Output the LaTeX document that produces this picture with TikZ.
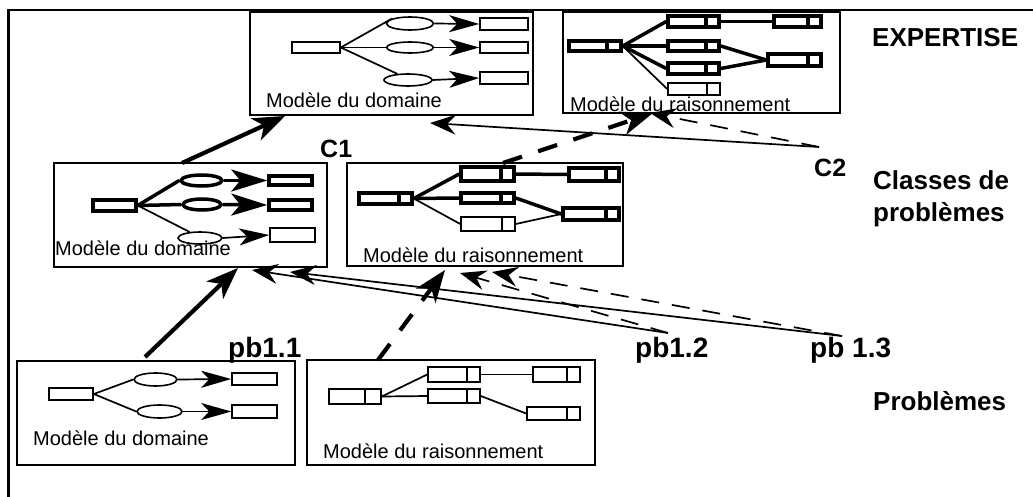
\documentclass[tikz,border=0pt]{standalone}
\usepackage{fontspec}
\setmainfont{Liberation Sans}
\usetikzlibrary{shapes.geometric,arrows.meta,fit}
\begin{document}
\begin{tikzpicture}[x=1pt,y=-1pt,
 box/.style={draw,line width=2pt,inner sep=0pt},
 cl/.style={rectangle,draw,inner sep=0pt,line width=1.6pt},
 ck/.style={rectangle,draw,inner sep=0pt,line width=3.5pt},
 el/.style={ellipse,draw,inner sep=0pt,line width=1.6pt},
 ek/.style={ellipse,draw,inner sep=0pt,line width=3.5pt},
 div/.style={path picture={\draw ([xshift=-#1]path picture bounding box.north east) -- ([xshift=-#1]path picture bounding box.south east);}},
 div/.default=13pt,
 wl/.style={line width=1.7pt},
 wk/.style={line width=3.5pt},
 wc/.style={line width=4.2pt},
 hm/.style={-{Stealth[length=30pt,width=17pt,inset=8pt]}},
 hk/.style={-{Stealth[length=36pt,width=22pt,inset=9pt]}},
 hc/.style={-{Stealth[length=32pt,width=24pt,inset=9pt]}},
 ht/.style={-{Stealth[length=26pt,width=20pt,inset=9pt]}},
 dk/.style={dash pattern=on 20pt off 17pt},
 dl/.style={dash pattern=on 18pt off 13pt},
 lbl/.style={anchor=base west,inner sep=0pt,font=\fontsize{20}{24}\selectfont},
 big/.style={anchor=base west,inner sep=0pt,font=\bfseries\fontsize{26}{32}\selectfont},
 pbl/.style={anchor=base west,inner sep=0pt,font=\bfseries\fontsize{28}{32}\selectfont},
 cbl/.style={anchor=base west,inner sep=0pt,font=\bfseries\fontsize{25}{30}\selectfont}
]
\useasboundingbox (0,0) rectangle (1033,497);
\draw[line width=2.5pt] (8.5,497) -- (8.5,10) -- (1033,10);

% ---------- top left: Modele du domaine (expertise)
\node[box,fit={(250,12)(533,115)}] (tl) {};
\node[cl,minimum width=48pt,minimum height=11pt] (tlA) at (316,47.5) {};
\node[el,minimum width=47pt,minimum height=13pt] (tlE1) at (410,23.5) {};
\node[el,minimum width=47pt,minimum height=11pt] (tlE2) at (410,47.5) {};
\node[el,minimum width=48pt,minimum height=12pt] (tlE3) at (408,80) {};
\node[cl,minimum width=48pt,minimum height=12pt] (tlR1) at (504,24) {};
\node[cl,minimum width=48pt,minimum height=11pt] (tlR2) at (504,47.5) {};
\node[cl,minimum width=48pt,minimum height=12pt] (tlR3) at (504,78) {};
\draw[wl] (tlA.east) -- (tlE1.165);
\draw[wl] (tlA.east) -- (tlE2.west);
\draw[wl] (tlA.east) -- (tlE3.150);
\draw[wl,hm] (tlE1.east) -- (tlR1.west);
\draw[wl,hm] (tlE2.east) -- (tlR2.west);
\draw[wl,hm] (tlE3.east) -- (tlR3.west);
\node[lbl] (tlT) at (266,108) {Modèle du domaine};

% ---------- top right: Modele du raisonnement (expertise)
\node[box,fit={(563,12)(840,113)}] (tr) {};
\node[ck,div=14pt,minimum width=52pt,minimum height=10pt] (trL) at (595,46) {};
\node[ck,div,minimum width=51pt,minimum height=11pt] (trA1) at (693.5,21.5) {};
\node[ck,div,minimum width=51pt,minimum height=10pt] (trA2) at (693.5,46) {};
\node[ck,div,minimum width=51pt,minimum height=11pt] (trA3) at (693.5,68.5) {};
\node[cl,div,minimum width=52pt,minimum height=12pt] (trA4) at (694,89) {};
\node[ck,div,minimum width=47pt,minimum height=11pt] (trB1) at (797.5,21.5) {};
\node[ck,div,minimum width=53pt,minimum height=12pt] (trB2) at (794.5,60) {};
\draw[wk] (trL.east) -- (trA1.west);
\draw[wk] (trL.east) -- (trA2.west);
\draw[wk] (trL.east) -- (trA3.west);
\draw[wl] (trL.east) -- (trA4.west);
\draw[wk] (trA1.east) -- (trB1.west);
\draw[wk] (trA2.east) -- (trB2.west);
\draw[wk] (trA3.east) -- (trB2.west);
\node[lbl] (trT) at (570,112) {Modèle du raisonnement};

% ---------- middle left: Modele du domaine (classes)
\node[box,fit={(54,163)(327,267)}] (ml) {};
\node[ck,minimum width=43pt,minimum height=11pt] (mlA) at (114.5,205.5) {};
\node[ek,minimum width=41pt,minimum height=11pt] (mlE1) at (201.5,180.5) {};
\node[ek,minimum width=38pt,minimum height=11pt] (mlE2) at (202,204.5) {};
\node[el,minimum width=44pt,minimum height=12pt] (mlE3) at (200,238) {};
\node[ck,minimum width=43pt,minimum height=9pt] (mlR1) at (290.5,180.5) {};
\node[ck,minimum width=43pt,minimum height=10pt] (mlR2) at (290.5,205) {};
\node[cl,minimum width=45pt,minimum height=14pt] (mlR3) at (292.5,235) {};
\draw[wk] (mlA.east) -- (mlE1.west);
\draw[wk] (mlA.east) -- (mlE2.west);
\draw[wl] (mlA.east) -- (mlE3.150);
\draw[wk,hk] (mlE1.east) -- (mlR1.west);
\draw[wk,hk] (mlE2.east) -- (mlR2.west);
\draw[wl,hm] (mlE3.east) -- (mlR3.west);
\node[lbl] (mlT) at (55,255) {Modèle du domaine};

% ---------- middle right: Modele du raisonnement (classes)
\node[box,fit={(347,163)(623,266)}] (mr) {};
\node[ck,div,minimum width=53pt,minimum height=11pt] (mrL) at (385.5,198.5) {};
\node[ck,div,minimum width=53pt,minimum height=14pt] (mrA1) at (487.5,174) {};
\node[ck,div,minimum width=53pt,minimum height=10pt] (mrA2) at (487.5,198) {};
\node[cl,div,minimum width=54pt,minimum height=14pt] (mrA3) at (488,224) {};
\node[ck,div,minimum width=50pt,minimum height=13pt] (mrB1) at (594,174.5) {};
\node[ck,div,minimum width=56pt,minimum height=12pt] (mrB2) at (591,214) {};
\draw[wk] (mrL.east) -- (mrA1.west);
\draw[wk] (mrL.east) -- (mrA2.west);
\draw[wl] (mrL.east) -- (mrA3.west);
\draw[wk] (mrA1.east) -- (mrB1.west);
\draw[wk] (mrA2.east) -- (mrB2.west);
\draw[wl] (mrA3.east) -- (mrB2.west);
\node[lbl] (mrT) at (363,262) {Modèle du raisonnement};

% ---------- bottom left: Modele du domaine (probleme)
\node[box,fit={(17,361)(295,465)}] (bl) {};
\node[cl,minimum width=44pt,minimum height=12pt] (blA) at (71,394) {};
\node[el,minimum width=43pt,minimum height=13pt] (blE1) at (155.5,379.5) {};
\node[el,minimum width=45pt,minimum height=13pt] (blE2) at (159.5,411.5) {};
\node[cl,minimum width=45pt,minimum height=12pt] (blR1) at (254.5,379) {};
\node[cl,minimum width=45pt,minimum height=13pt] (blR2) at (254.5,411.5) {};
\draw[wl] (blA.east) -- (blE1.west);
\draw[wl] (blA.east) -- (blE2.west);
\draw[wl,hm] (blE1.east) -- (blR1.west);
\draw[wl,hm] (blE2.east) -- (blR2.west);
\node[lbl] (blT) at (33,445) {Modèle du domaine};

% ---------- bottom right: Modele du raisonnement (probleme)
\node[box,fit={(307,360)(595,465)}] (br) {};
\node[cl,div=16pt,minimum width=52pt,minimum height=15pt] (brL) at (355,396.5) {};
\node[cl,div,minimum width=52pt,minimum height=15pt] (brA1) at (454,374.5) {};
\node[cl,div,minimum width=52pt,minimum height=14pt] (brA2) at (454,396) {};
\node[cl,div,minimum width=47pt,minimum height=15pt] (brB1) at (556.5,374.5) {};
\node[cl,div,minimum width=53pt,minimum height=13pt] (brB2) at (553.5,413.5) {};
\draw[wl] (brL.east) -- (brA1.west);
\draw[wl] (brL.east) -- (brA2.west);
\draw[wl] (brA1.east) -- (brB1.west);
\draw[wl] (brA2.east) -- (brB2.west);
\node[lbl] (brT) at (323,458) {Modèle du raisonnement};

% ---------- labels
\node[big] (lex) at (872,47) {EXPERTISE};
\node[cbl] (lc1) at (320,158) {C1};
\node[cbl] (lc2) at (814,177) {C2};
\node[big,anchor=north west,align=left] (lcl) at (873,170) {Classes de\\problèmes};
\node[pbl] (lp1) at (228,357) {pb1.1};
\node[pbl] (lp2) at (635,357) {pb1.2};
\node[pbl] (lp3) at (810,357) {pb 1.3};
\node[big] (lpb) at (873,410) {Problèmes};

% ---------- connector end points
\coordinate (k1s) at (182,163); \coordinate (k1e) at (285,116);
\coordinate (k2s) at (145,357); \coordinate (k2e) at (238,268);
\coordinate (k3s) at (503,163); \coordinate (k3e) at (653,113);
\coordinate (k4s) at (378,360); \coordinate (k4e) at (445,270);
\coordinate (c2p) at (819,147);
\coordinate (t1) at (430,123); \coordinate (t2) at (650,113);
\coordinate (p2) at (668,333); \coordinate (p3) at (842,336);
\coordinate (m1) at (252,270); \coordinate (m2) at (290,272);
\coordinate (m3) at (460,273); \coordinate (m4) at (492,272);

% ---------- connectors
\draw[wc,hc] (k1s) -- (k1e);
\draw[wc,hc] (k2s) -- (k2e);
\draw[wc,hc,dk] (k3s) -- (k3e);
\draw[wc,hc,dk] (k4s) -- (k4e);
\draw[wl,ht] (c2p) -- (t1);
\draw[wl,ht,dl] (c2p) -- (t2);
\draw[wl,ht] (p2) -- (m1);
\draw[wl,ht] (p3) -- (m2);
\draw[wl,ht,dl] (p2) -- (m3);
\draw[wl,ht,dl] (p3) -- (m4);
\end{tikzpicture}
\end{document}
